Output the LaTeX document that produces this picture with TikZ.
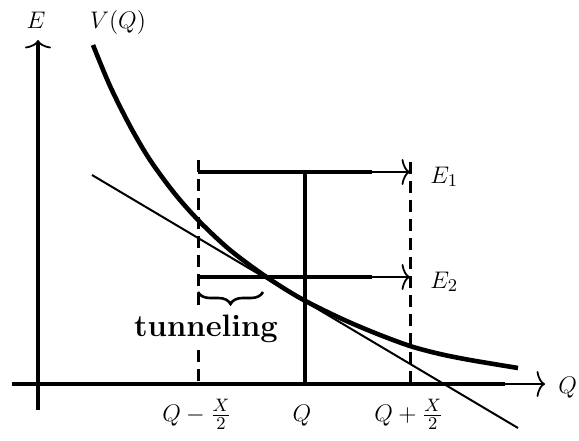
\documentclass[tikz,border=0pt,12pt]{standalone}
\usetikzlibrary{arrows.meta,decorations.pathreplacing}
\begin{document}
\begin{tikzpicture}[x=0.5pt,y=-0.5pt,
  tipend/.style={-{Computer Modern Rightarrow[width=13pt,length=4.2pt,line width=0.9pt]}},
  axisln/.style={line width=1.7pt},
  thinshaft/.style={line width=1pt},
  levelln/.style={line width=2pt},
  dashln/.style={line width=1.5pt,dash pattern=on 6pt off 3.5pt},
  curveln/.style={line width=2.3pt,line join=round},
  tangln/.style={line width=1pt},
  lbl/.style={inner sep=0pt,font=\fontsize{13}{16}\selectfont}]
\useasboundingbox (0,0) rectangle (579,440);
% coordinates
\coordinate (Eb) at (38,410);
\coordinate (Et) at (38,40);
\coordinate (Ql) at (12,384);
\coordinate (Qm) at (505,384);
\coordinate (Qr) at (545,384);
\coordinate (LT) at (198,160);
\coordinate (LB) at (198,384);
\coordinate (RT) at (410,162);
\coordinate (RB) at (410,384);
\coordinate (MT) at (305,172);
\coordinate (MB) at (305,384);
\coordinate (A1) at (198,172);
\coordinate (M1) at (372,172);
\coordinate (N1) at (368,172);
\coordinate (B1) at (410,172);
\coordinate (A2) at (198,277);
\coordinate (M2) at (372,277);
\coordinate (N2) at (368,277);
\coordinate (B2) at (410,277);
\coordinate (T1) at (92,175);
\coordinate (T2) at (518,428);
\coordinate (BrL) at (198,292);
\coordinate (BrR) at (263,292);
% axes
\draw[axisln,tipend] (Eb) -- (Et);
\draw[axisln] (Ql) -- (Qm);
\draw[thinshaft,tipend] (Qm) -- (Qr);
% dashed box
\draw[dashln] (LT) -- (LB);
\draw[dashln] (RT) -- (RB);
\draw[dashln] (LB) -- (RB);
% middle vertical
\draw[levelln] (MT) -- (MB);
% levels
\draw[levelln] (A1) -- (M1);
\draw[thinshaft,tipend] (N1) -- (B1);
\draw[levelln] (A2) -- (M2);
\draw[thinshaft,tipend] (N2) -- (B2);
% tangent line
\draw[tangln] (T1) -- (T2);
% potential curve
\draw[curveln] plot[smooth,tension=0.5] coordinates {(93,45) (110,86) (130,126) (150,160) (175,194) (200,222) (230,250) (265,276) (300,298) (340,318) (375,333) (410,346) (440,354) (470,360) (518,368)};
% brace
\draw[line width=1.3pt,decorate,decoration={brace,mirror,amplitude=6pt}] (BrL) -- (BrR);
% labels
\node[lbl,anchor=base] (lE) at (36,28) {$E$};
\node[lbl,anchor=base] (lV) at (118,28) {$V(Q)$};
\node[lbl,anchor=base west] (lE1) at (430,183) {$E_1$};
\node[lbl,anchor=base west] (lE2) at (430,288) {$E_2$};
\node[lbl,anchor=base west] (lQ) at (558,393) {$Q$};
\node[lbl,anchor=base] (lQm) at (197,421) {$Q-\frac{X}{2}$};
\node[lbl,anchor=base] (lQc) at (302,421) {$Q$};
\node[lbl,anchor=base] (lQp) at (409,421) {$Q+\frac{X}{2}$};
\node[fill=white,inner xsep=0pt,inner ysep=1.5pt,anchor=base] (ltun) at (206,336) {\fontsize{15.5}{18}\selectfont\bfseries tunneling};
\end{tikzpicture}
\end{document}
